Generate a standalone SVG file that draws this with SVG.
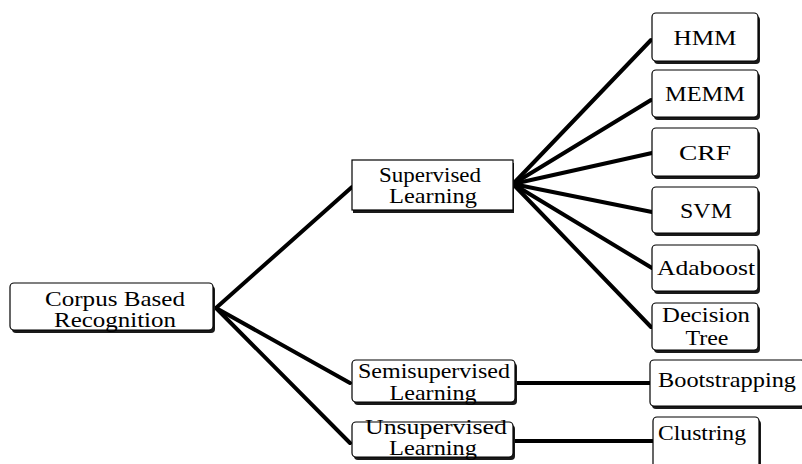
<svg xmlns="http://www.w3.org/2000/svg" width="802" height="464" viewBox="0 0 802 464">
  <style>
    .shadow { fill: #1a1a1a; }
    .box { fill: #ffffff; stroke: #000000; stroke-width: 1.2; }
    .lbl { font-family: 'Liberation Serif', 'Times New Roman', 'DejaVu Serif', serif; font-size: 21px; fill: #000000; text-anchor: middle; }
    .link { stroke: #000000; stroke-width: 4; stroke-linecap: round; fill: none; }
  </style>
  <rect width="802" height="464" fill="#ffffff"/>

  <!-- connectors -->
  <g id="connectors">
    <line class="link" x1="216" y1="308" x2="352" y2="187"/>
    <line class="link" x1="216" y1="308" x2="350" y2="383"/>
    <line class="link" x1="216" y1="308" x2="350" y2="443"/>
    <line class="link" x1="513" y1="184" x2="651" y2="40"/>
    <line class="link" x1="513" y1="184" x2="651" y2="100"/>
    <line class="link" x1="513" y1="184" x2="652" y2="153"/>
    <line class="link" x1="513" y1="184" x2="652" y2="212"/>
    <line class="link" x1="513" y1="184" x2="652" y2="268"/>
    <line class="link" x1="513" y1="184" x2="651" y2="327"/>
    <line class="link" x1="515" y1="383" x2="650" y2="383"/>
    <line class="link" x1="513" y1="441" x2="653" y2="441"/>
  </g>

  <g id="corpus">
    <rect class="shadow" x="12" y="286" width="203" height="47" rx="4"/>
    <rect class="box" x="10" y="283" width="203" height="47" rx="4"/>
    <text class="lbl" x="115" y="306" textLength="140" lengthAdjust="spacingAndGlyphs">Corpus Based</text>
    <text class="lbl" x="115" y="327" textLength="122" lengthAdjust="spacingAndGlyphs">Recognition</text>
  </g>

  <g id="supervised">
    <rect class="shadow" x="353" y="163" width="161" height="50"/>
    <rect class="box" x="352" y="160" width="161" height="50"/>
    <text class="lbl" x="430" y="182" textLength="102" lengthAdjust="spacingAndGlyphs">Supervised</text>
    <text class="lbl" x="433" y="203" textLength="88" lengthAdjust="spacingAndGlyphs">Learning</text>
  </g>

  <g id="semisupervised">
    <rect class="shadow" x="354" y="363" width="163" height="42" rx="4"/>
    <rect class="box" x="352" y="360" width="163" height="42" rx="4"/>
    <text class="lbl" x="434" y="378" textLength="152" lengthAdjust="spacingAndGlyphs">Semisupervised</text>
    <text class="lbl" x="433" y="400" textLength="87" lengthAdjust="spacingAndGlyphs">Learning</text>
  </g>

  <g id="unsupervised">
    <rect class="shadow" x="354" y="425" width="161" height="35" rx="4"/>
    <rect class="box" x="352" y="422" width="161" height="35" rx="4"/>
    <text class="lbl" x="436" y="434" textLength="142" lengthAdjust="spacingAndGlyphs">Unsupervised</text>
    <text class="lbl" x="433" y="455" textLength="88" lengthAdjust="spacingAndGlyphs">Learning</text>
  </g>

  <g id="hmm">
    <rect class="shadow" x="654" y="16" width="106" height="48" rx="4"/>
    <rect class="box" x="652" y="13" width="106" height="48" rx="4"/>
    <text class="lbl" x="705" y="45" textLength="63" lengthAdjust="spacingAndGlyphs">HMM</text>
  </g>

  <g id="memm">
    <rect class="shadow" x="654" y="73" width="106" height="47" rx="4"/>
    <rect class="box" x="652" y="70" width="106" height="47" rx="4"/>
    <text class="lbl" x="705" y="101" textLength="80" lengthAdjust="spacingAndGlyphs">MEMM</text>
  </g>

  <g id="crf">
    <rect class="shadow" x="654" y="131" width="106" height="48" rx="4"/>
    <rect class="box" x="652" y="128" width="106" height="48" rx="4"/>
    <text class="lbl" x="705" y="160" textLength="52" lengthAdjust="spacingAndGlyphs">CRF</text>
  </g>

  <g id="svm">
    <rect class="shadow" x="654" y="190" width="106" height="46" rx="4"/>
    <rect class="box" x="652" y="187" width="106" height="46" rx="4"/>
    <text class="lbl" x="706" y="218" textLength="52" lengthAdjust="spacingAndGlyphs">SVM</text>
  </g>

  <g id="adaboost">
    <rect class="shadow" x="654" y="248" width="106" height="46" rx="4"/>
    <rect class="box" x="652" y="245" width="106" height="46" rx="4"/>
    <text class="lbl" x="706" y="275" textLength="98" lengthAdjust="spacingAndGlyphs">Adaboost</text>
  </g>

  <g id="decision-tree">
    <rect class="shadow" x="654" y="306" width="106" height="47" rx="4"/>
    <rect class="box" x="652" y="303" width="106" height="47" rx="4"/>
    <text class="lbl" x="706" y="322" textLength="88" lengthAdjust="spacingAndGlyphs">Decision</text>
    <text class="lbl" x="707" y="345" textLength="43" lengthAdjust="spacingAndGlyphs">Tree</text>
  </g>

  <g id="bootstrapping">
    <rect class="shadow" x="652" y="363" width="155" height="46" rx="4"/>
    <rect class="box" x="650" y="360" width="155" height="46" rx="4"/>
    <text class="lbl" x="727" y="387" textLength="138" lengthAdjust="spacingAndGlyphs">Bootstrapping</text>
  </g>

  <g id="clustring">
    <rect class="shadow" x="655" y="420" width="106" height="52" rx="4"/>
    <rect class="box" x="653" y="417" width="106" height="52" rx="4"/>
    <text class="lbl" x="702" y="440" textLength="88" lengthAdjust="spacingAndGlyphs">Clustring</text>
  </g>
</svg>
